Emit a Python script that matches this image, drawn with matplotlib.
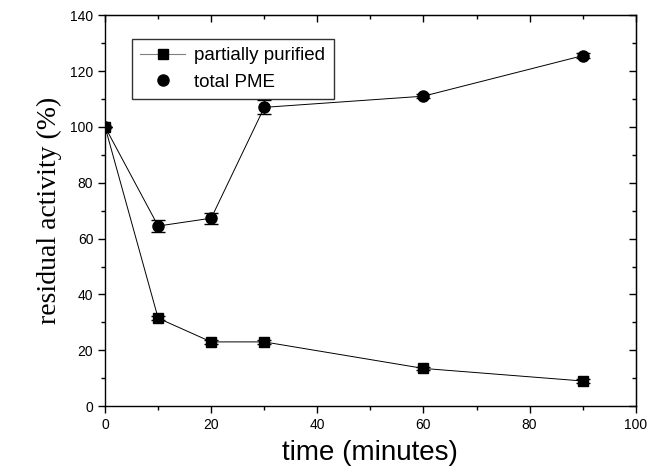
import matplotlib
matplotlib.use('Agg')
import matplotlib.pyplot as plt
from matplotlib.ticker import MultipleLocator
from matplotlib.lines import Line2D

# data
time_min = [0, 10, 20, 30, 60, 90]
partially_purified = [100, 31.5, 23, 23, 13.5, 9]
partial_err = [0, 0.8, 0.6, 0.6, 0.6, 0.6]
total_pme = [100, 64.5, 67.3, 107, 111, 125.5]
total_err = [0, 2, 2, 2.5, 0.8, 0.8]

plt.rcParams['font.family'] = 'Liberation Sans'

fig = plt.figure(figsize=(6.65, 4.75), dpi=100)
ax = fig.add_axes([0.158, 0.145, 0.798, 0.823])

ax.errorbar(time_min, total_pme, yerr=total_err, color='black',
            lw=0.7, marker='o', ms=8, capsize=5, elinewidth=0.7)
ax.errorbar(time_min, partially_purified, yerr=partial_err, color='black',
            lw=0.7, marker='s', ms=7.5, capsize=5, elinewidth=0.7)

ax.set_xlim(0, 100)
ax.set_ylim(0, 140)
ax.xaxis.set_major_locator(MultipleLocator(20))
ax.xaxis.set_minor_locator(MultipleLocator(10))
ax.yaxis.set_major_locator(MultipleLocator(20))
ax.yaxis.set_minor_locator(MultipleLocator(10))
# outward ticks on bottom/left, inward on top/right
ax.tick_params(which='both', direction='out', labelsize=10, width=1)
ax.tick_params(which='major', length=5)
ax.tick_params(which='minor', length=3)
for s in ax.spines.values():
    s.set_linewidth(1)
ax2 = ax.secondary_xaxis('top')
ax2.xaxis.set_major_locator(MultipleLocator(20))
ax2.xaxis.set_minor_locator(MultipleLocator(10))
ax2.tick_params(which='both', direction='in', labeltop=False, width=1)
ax2.tick_params(which='major', length=5)
ax2.tick_params(which='minor', length=3)
ax3 = ax.secondary_yaxis('right')
ax3.yaxis.set_major_locator(MultipleLocator(20))
ax3.yaxis.set_minor_locator(MultipleLocator(10))
ax3.tick_params(which='both', direction='in', labelright=False, width=1)
ax3.tick_params(which='major', length=5)
ax3.tick_params(which='minor', length=3)

ax.set_xlabel('time (minutes)', fontsize=20, labelpad=6)
ax.set_ylabel('residual activity (%)', fontsize=20,
              family='Liberation Serif', labelpad=6)

handles = [
    Line2D([], [], color='gray', lw=0.8, marker='s', ms=7.5,
           mfc='black', mec='black'),
    Line2D([], [], color='black', ls='none', marker='o', ms=8),
]
leg = ax.legend(handles, ['partially purified', 'total PME'],
                loc='upper left', bbox_to_anchor=(0.05, 0.94),
                fontsize=13.5, frameon=True, fancybox=False, edgecolor='black',
                handlelength=2.4, borderpad=0.45, labelspacing=0.5,
                handletextpad=0.5, borderaxespad=0)
leg.get_frame().set_linewidth(1)

fig.savefig('out.png', dpi=100)
